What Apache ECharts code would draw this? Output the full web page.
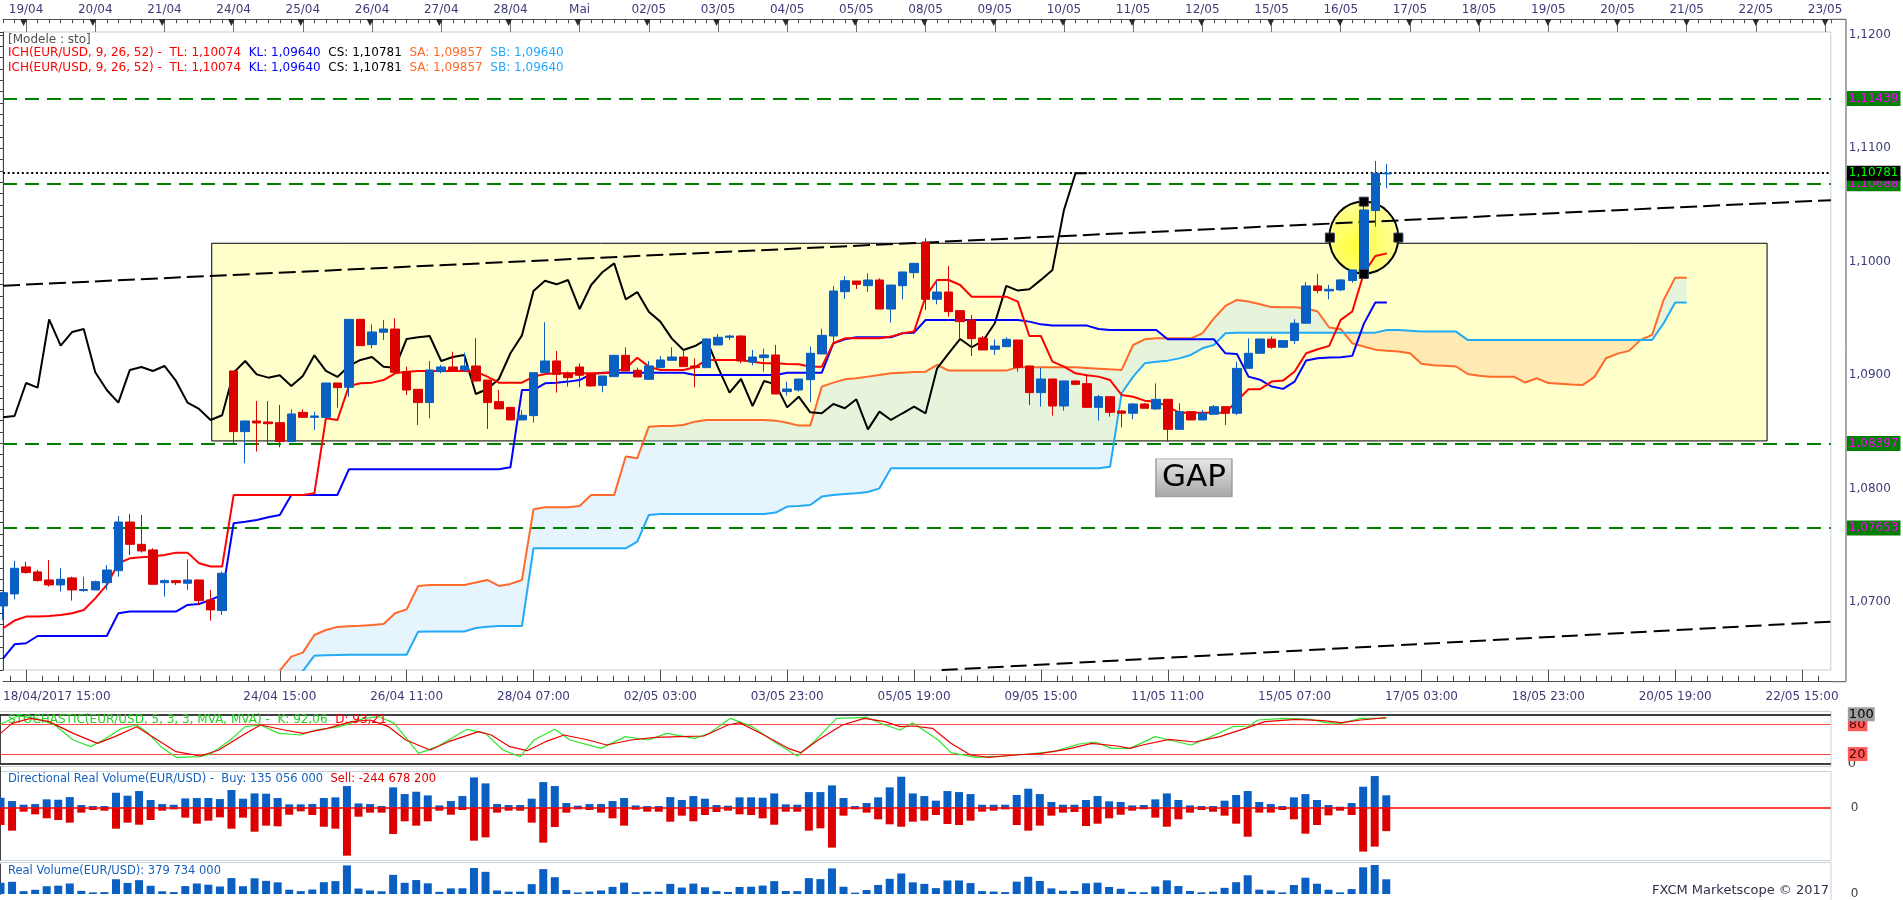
<!DOCTYPE html>
<html><head><meta charset="utf-8">
<script src="https://cdn.jsdelivr.net/npm/echarts@6/dist/echarts.min.js"></script>
<style>html,body{margin:0;padding:0;background:#fff;overflow:hidden}#c{width:1903px;height:900px}</style>
</head><body><div id="c"></div><script>
// ---------------- DATA ----------------
// H4 candles EUR/USD, bar index 0 = 18/04/2017 15:00 ; [open, close, low, high]
const candles = [
[1.06965,1.07082,1.06841,1.07090],[1.07071,1.07297,1.07024,1.07362],[1.07309,1.07259,1.07250,1.07355],[1.07265,1.07188,1.07180,1.07282],[1.07194,1.07150,1.07135,1.07370],
[1.07150,1.07200,1.07091,1.07297],[1.07212,1.07106,1.07012,1.07223],[1.07100,1.07110,1.07091,1.07223],[1.07106,1.07179,1.07106,1.07188],[1.07170,1.07282,1.07106,1.07326],
[1.07276,1.07705,1.07223,1.07758],[1.07705,1.07508,1.07414,1.07776],[1.07508,1.07450,1.07435,1.07767],[1.07459,1.07156,1.07156,1.07473],[1.07170,1.07188,1.07047,1.07200],
[1.07188,1.07170,1.07150,1.07194],[1.07165,1.07194,1.07106,1.07376],[1.07194,1.07012,1.06974,1.07194],[1.07018,1.06930,1.06835,1.07106],[1.06924,1.07253,1.06885,1.07268],
[1.09037,1.08502,1.08399,1.09037],[1.08502,1.08596,1.08223,1.08596],[1.08596,1.08578,1.08326,1.08772],[1.08587,1.08572,1.08399,1.08772],[1.08581,1.08414,1.08364,1.08737],
[1.08414,1.08658,1.08414,1.08699],[1.08672,1.08628,1.08628,1.08699],[1.08628,1.08640,1.08516,1.08678],[1.08628,1.08931,1.08628,1.08931],[1.08931,1.08890,1.08713,1.08931],
[1.08893,1.09492,1.08810,1.09492],[1.09492,1.09260,1.09260,1.09492],[1.09269,1.09381,1.09237,1.09448],[1.09378,1.09407,1.09310,1.09486],[1.09407,1.09025,1.09025,1.09501],
[1.09031,1.08869,1.08825,1.09075],[1.08875,1.08758,1.08561,1.08875],[1.08758,1.09046,1.08619,1.09125],[1.09031,1.09072,1.09016,1.09090],[1.09072,1.09037,1.09037,1.09207],
[1.09046,1.09081,1.09031,1.09198],[1.09081,1.08949,1.08943,1.09325],[1.08957,1.08758,1.08525,1.08957],[1.08767,1.08702,1.08702,1.08869],[1.08716,1.08605,1.08605,1.08716],
[1.08605,1.08646,1.08605,1.08693],[1.08643,1.09022,1.08581,1.09022],[1.09022,1.09125,1.09022,1.09466],[1.09125,1.09007,1.08846,1.09213],[1.09016,1.08978,1.08899,1.09031],
[1.09072,1.08999,1.08893,1.09104],[1.09007,1.08905,1.08899,1.09022],[1.08910,1.08993,1.08849,1.08993],[1.08987,1.09175,1.08987,1.09175],[1.09175,1.09037,1.09037,1.09245],
[1.09043,1.08984,1.08984,1.09066],[1.08963,1.09081,1.08963,1.09125],[1.09066,1.09134,1.09066,1.09169],[1.09131,1.09160,1.09131,1.09246],[1.09160,1.09075,1.09075,1.09222],
[1.09081,1.09066,1.08893,1.09148],[1.09066,1.09319,1.09066,1.09319],[1.09266,1.09334,1.09266,1.09363],[1.09334,1.09345,1.09310,1.09357],[1.09345,1.09125,1.09104,1.09351],
[1.09116,1.09160,1.09087,1.09222],[1.09154,1.09178,1.09031,1.09234],[1.09178,1.08834,1.08834,1.09266],[1.08855,1.08878,1.08819,1.08943],[1.08869,1.08966,1.08855,1.08966],
[1.08960,1.09193,1.08761,1.09251],[1.09187,1.09351,1.09187,1.09410],[1.09345,1.09742,1.09266,1.09786],[1.09736,1.09833,1.09672,1.09874],[1.09830,1.09801,1.09760,1.09830],
[1.09789,1.09839,1.09733,1.09898],[1.09839,1.09583,1.09583,1.09854],[1.09583,1.09795,1.09463,1.09795],[1.09789,1.09910,1.09669,1.09910],[1.09904,1.09986,1.09854,1.09986],
[1.10171,1.09669,1.09575,1.10207],[1.09669,1.09733,1.09625,1.09824],[1.09733,1.09560,1.09516,1.09963],[1.09569,1.09472,1.09319,1.09569],[1.09487,1.09322,1.09169,1.09531],
[1.09328,1.09222,1.09222,1.09345],[1.09228,1.09257,1.09178,1.09316],[1.09251,1.09316,1.09251,1.09334],[1.09310,1.09069,1.09031,1.09310],[1.09081,1.08846,1.08737,1.09081],
[1.08846,1.08966,1.08722,1.09066],[1.08966,1.08728,1.08643,1.08966],[1.08728,1.08949,1.08687,1.08949],[1.08949,1.08919,1.08919,1.08949],[1.08925,1.08716,1.08716,1.09007],
[1.08716,1.08810,1.08599,1.08825],[1.08810,1.08672,1.08634,1.08810],[1.08684,1.08664,1.08540,1.08693],[1.08664,1.08746,1.08611,1.08755],[1.08746,1.08708,1.08708,1.08755],
[1.08702,1.08787,1.08693,1.08928],[1.08787,1.08522,1.08414,1.08787],[1.08522,1.08678,1.08522,1.08752],[1.08678,1.08605,1.08605,1.08678],[1.08605,1.08664,1.08605,1.08693],
[1.08655,1.08722,1.08655,1.08737],[1.08722,1.08664,1.08561,1.08722],[1.08664,1.09060,1.08649,1.09119],[1.09060,1.09193,1.09060,1.09325],[1.09193,1.09319,1.09193,1.09319],
[1.09317,1.09246,1.09231,1.09340],[1.09246,1.09305,1.09240,1.09305],[1.09305,1.09458,1.09273,1.09493],[1.09458,1.09787,1.09458,1.09822],[1.09787,1.09746,1.09722,1.09893],
[1.09743,1.09757,1.09669,1.09796],[1.09752,1.09840,1.09740,1.09845],[1.09834,1.09928,1.09816,1.09928],[1.09869,1.10457,1.09869,1.10530],[1.10451,1.10780,1.10310,1.10889],
[1.10775,1.10781,1.10648,1.10863]
];
// Ichimoku (9, 26, 52)
const tenkan = [
1.06768,1.06836,1.06871,1.06871,1.06877,1.06885,1.06900,1.06929,1.07032,1.07150,
1.07341,1.07385,1.07394,1.07400,1.07414,1.07435,1.07435,1.07341,1.07312,1.07312,
1.07944,1.07944,1.07944,1.07944,1.07944,1.07944,1.07944,1.07958,1.08619,1.08605,
1.08905,1.08928,1.08934,1.08957,1.09016,1.09031,1.09037,1.09037,1.09037,1.09037,
1.09037,1.09031,1.08987,1.08934,1.08934,1.08934,1.08987,1.09010,1.09016,1.09016,
1.09016,1.09016,1.09016,1.09031,1.09060,1.09154,1.09075,1.09046,1.09046,1.09046,
1.09069,1.09134,1.09134,1.09134,1.09134,1.09119,1.09104,1.09104,1.09099,1.09096,
1.09075,1.09075,1.09281,1.09325,1.09325,1.09325,1.09325,1.09340,1.09369,1.09384,
1.09692,1.09839,1.09839,1.09795,1.09692,1.09692,1.09692,1.09692,1.09648,1.09345,
1.09345,1.09119,1.09075,1.09016,1.08999,1.08987,1.08957,1.08825,1.08810,1.08775,
1.08766,1.08722,1.08669,1.08669,1.08669,1.08669,1.08669,1.08775,1.08876,1.08876,
1.08943,1.08952,1.09032,1.09193,1.09228,1.09258,1.09487,1.09561,1.09899,1.10051,1.10074];
const kijun = [
1.06500,1.06627,1.06636,1.06700,1.06700,1.06700,1.06700,1.06700,1.06700,1.06700,
1.06900,1.06915,1.06915,1.06915,1.06915,1.06915,1.06974,1.06982,1.07018,1.07062,
1.07694,1.07708,1.07723,1.07747,1.07767,1.07944,1.07944,1.07944,1.07944,1.07944,
1.08170,1.08170,1.08170,1.08170,1.08170,1.08170,1.08170,1.08170,1.08170,1.08170,
1.08170,1.08170,1.08170,1.08170,1.08187,1.08869,1.08869,1.08928,1.08934,1.08943,
1.08957,1.09010,1.09022,1.09022,1.09022,1.09022,1.09022,1.09022,1.09022,1.09022,
1.09002,1.09002,1.09002,1.09002,1.09002,1.09002,1.09002,1.09002,1.09022,1.09022,
1.09022,1.09022,1.09281,1.09316,1.09334,1.09334,1.09334,1.09334,1.09369,1.09375,
1.09486,1.09486,1.09486,1.09486,1.09486,1.09486,1.09486,1.09486,1.09486,1.09472,
1.09448,1.09437,1.09437,1.09437,1.09437,1.09407,1.09398,1.09398,1.09398,1.09398,
1.09398,1.09316,1.09316,1.09316,1.09316,1.09316,1.09193,1.09187,1.08987,1.08960,
1.08900,1.08879,1.08943,1.09129,1.09149,1.09155,1.09158,1.09170,1.09452,1.09640,1.09640];
const chikouShift = 26;
const senkouAStart = 24;
const senkouA = [
1.06395,1.06518,1.06553,1.06709,1.06753,1.06780,1.06785,1.06790,1.06797,1.06806,
1.06900,1.06935,1.07141,1.07150,1.07150,1.07150,1.07150,1.07171,1.07194,1.07141,
1.07159,1.07194,1.07817,1.07835,1.07835,1.07835,1.07847,1.07944,1.07944,1.07944,
1.08282,1.08267,1.08546,1.08552,1.08552,1.08561,1.08590,1.08605,1.08605,1.08605,
1.08605,1.08605,1.08605,1.08599,1.08581,1.08555,1.08555,1.08899,1.08934,1.08963,
1.08972,1.08987,1.09002,1.09016,1.09022,1.09028,1.09031,1.09090,1.09040,1.09040,
1.09040,1.09040,1.09040,1.09040,1.09069,1.09069,1.09069,1.09069,1.09069,1.09069,
1.09063,1.09057,1.09051,1.09046,1.09266,1.09316,1.09325,1.09325,1.09325,1.09325,
1.09369,1.09501,1.09610,1.09663,1.09650,1.09625,1.09600,1.09599,1.09599,1.09590,
1.09561,1.09420,1.09405,1.09280,1.09252,1.09225,1.09215,1.09208,1.09193,1.09100,
1.09088,1.09082,1.09076,1.09010,1.08995,1.08987,1.08987,1.08987,1.08935,1.08973,
1.08930,1.08925,1.08918,1.08914,1.08985,1.09149,1.09190,1.09214,1.09311,1.09355,
1.09663,1.09860,1.09860];
const senkouBStart = 24;
const senkouB = [
1.06300,1.06340,
1.06390,1.06526,1.06530,1.06533,1.06535,1.06535,1.06535,1.06535,1.06535,1.06535,
1.06738,1.06740,1.06740,1.06740,1.06740,1.06770,1.06782,1.06788,1.06788,1.06788,
1.07473,1.07473,1.07473,1.07473,1.07473,1.07473,1.07473,1.07473,1.07473,1.07532,
1.07767,1.07776,1.07776,1.07776,1.07776,1.07776,1.07776,1.07776,1.07776,1.07776,
1.07776,1.07788,1.07841,1.07847,1.07855,1.07929,1.07944,1.07952,1.07958,1.07970,
1.08002,1.08179,1.08179,1.08179,1.08179,1.08179,1.08179,1.08179,1.08179,1.08179,
1.08179,1.08179,1.08179,1.08179,1.08179,1.08179,1.08179,1.08179,1.08179,1.08179,
1.08193,1.08840,1.08987,1.09104,1.09119,1.09128,1.09148,1.09178,1.09237,1.09266,
1.09369,1.09375,1.09375,1.09375,1.09375,1.09375,1.09375,1.09375,1.09375,1.09375,
1.09375,1.09375,1.09375,1.09375,1.09399,1.09399,1.09392,1.09384,1.09384,1.09384,
1.09384,1.09311,1.09311,1.09311,1.09311,1.09311,1.09311,1.09311,1.09311,1.09311,
1.09311,1.09311,1.09311,1.09311,1.09311,1.09311,1.09311,1.09311,1.09458,1.09640,
1.09640];
// Stochastic (5,3,3): [bar, value]
const stochK = [[0,80],[1.5,96.6],[3.1,91.9],[4.7,78.5],[6.3,48.3],[7.8,34.9],[8.9,48.3],[10.5,71.8],[11.8,78.5],[12.8,61.7],[13.9,34.9],[15.2,13.4],[17.3,14.8],[18.3,21.5],[19.9,48.3],[21.2,75.1],[22.5,78.5],[24.1,61.7],[26,58.4],[27.3,68.4],[29.4,75.1],[31.5,91.9],[32.8,95.2],[34.1,81.8],[36.2,21.5],[37.8,34.9],[40.4,69.8],[42,61.7],[43.5,28.2],[45,14.8],[46.2,48.3],[48,69.8],[49.3,48.3],[52,31.5],[54.1,55],[56.1,48.3],[57.7,61.7],[60.1,51.6],[61.4,61.7],[63.2,91.9],[65.1,75.1],[67.2,41.6],[69,16.1],[70.3,41.6],[72.4,91.9],[75,93.9],[76.6,78.5],[77.9,68.4],[79,83.2],[81.2,48.3],[82.3,22.8],[84.5,13.4],[86.8,16.1],[89,20.1],[91.2,24.8],[93.4,40.2],[94.8,44.3],[96.2,31.5],[97.8,31.5],[100,55],[101.2,48.3],[103.1,38.2],[104.5,51.6],[106.7,75.1],[108.1,76.5],[108.9,88.5],[111.1,91.9],[113.3,90.5],[114.7,83.2],[116.1,81.8],[117.8,91.9],[120,92.06]];
const stochD = [[0,61.7],[1,81.8],[2.6,91.9],[4.2,85.2],[6.3,61.7],[8.4,41.6],[9.9,55],[11.8,75.1],[13.6,48.3],[15.2,24.8],[17.3,16.1],[18.9,28.2],[21,58.4],[22.5,78.5],[24.6,68.4],[26.2,61.7],[28.3,71.8],[30.4,85.2],[32,88.5],[33.6,75.1],[35.1,48.3],[37.2,28.2],[38.8,44.9],[41.4,65.1],[42.5,58.4],[44.1,34.9],[45.6,26.8],[47.2,44.9],[48.8,58.4],[50.9,48.3],[52.5,38.2],[54.6,48.3],[56.7,53.7],[58.8,55],[60.9,56.3],[63,78.5],[64,83.2],[66.1,58.4],[68.2,31.5],[69.3,22.8],[70.8,48.3],[72.9,78.5],[74.8,91.9],[76.6,85.2],[77.9,75.1],[79,76.5],[80.7,71.8],[82.3,41.6],[84,18.1],[85.6,13.4],[87.9,18.1],[90.1,21.5],[92.3,29.5],[94.5,41.6],[96.7,36.2],[97.8,31.5],[98.9,38.2],[101.2,49.6],[103.4,44.3],[105.6,55],[107.8,71.8],[109.5,85.2],[112.2,89.9],[114.5,87.2],[116.1,83.2],[117.8,88.5],[120,93.21]];
// Directional real volume, millions (buy up, sell down)
const buyVolume = [109,74,35,42,92,88,116,32,21,21, 162,131,180,85,42,35,102,106,106,95, 191,99,155,152,106,39,39,42,106,113, 233,49,42,21,219,148,173,134,28,74, 127,325,261,42,32,32,99,275,233,53, 25,42,42,74,106,28,21,21,116,85, 127,99,32,25,113,113,109,155,39,35, 169,169,240,106,21,53,113,219,332,155, 127,78,180,169,148,35,35,35,138,205, 148,64,35,35,85,127,71,64,28,32, 92,155,85,28,21,21,78,138,180,64, 42,21,113,148,85,32,14,53,226,339, 135.056];
const sellVolume = [180,240,39,67,109,127,155,49,21,28, 219,155,177,127,28,14,102,166,134,99, 219,102,251,187,194,71,35,74,198,219, 505,92,49,49,275,141,187,141,28,71, 21,346,311,49,28,28,155,367,201,49, 14,21,49,109,187,18,39,39,145,81, 141,74,42,28,67,74,109,177,39,39, 240,215,420,81,14,49,120,173,198,145, 134,74,169,180,134,39,28,14,180,240, 187,81,49,42,191,166,109,71,28,14, 102,198,120,49,21,39,81,166,304,49, 49,21,120,272,180,78,28,74,462,409, 244.678];
// Drawn objects, in chart coordinates [bar, price]
const levelLines = [1.11439, 1.10688, 1.08397, 1.07653];
const lastClose = 1.10781;
const upperTrend = [[0, 1.09789], [158.5, 1.10543]];
const lowerTrend = [[81.4, 1.06400], [158.5, 1.06826]];
const rangeBox = [[18.1, 1.10163], [152.97, 1.08420]];
const circleCenter = [118, 1.10213];
const circleHandles = [[118, 1.10530], [118, 1.09892], [115.06, 1.10213], [121.0, 1.10213]];
const gapNote = [103.27, 1.08094];
// Axis ticks / labels
const dayTicks = [2,8,14,20,26,32,38,44,50,56,62,68,74,80,86,92,98,104,110,116,122,128,134,140,146,152,158];
const dayLabels = ['19/04','20/04','21/04','24/04','25/04','26/04','27/04','28/04','Mai','02/05','03/05','04/05','05/05','08/05','09/05','10/05','11/05','12/05','15/05','16/05','17/05','18/05','19/05','20/05','21/05','22/05','23/05'];
const timeTicks = [0,24,35,46,57,68,79,90,101,112,123,134,145,156];
const timeLabels = ['18/04/2017 15:00','24/04 15:00','26/04 11:00','28/04 07:00','02/05 03:00','03/05 23:00','05/05 19:00','09/05 15:00','11/05 11:00','15/05 07:00','17/05 03:00','18/05 23:00','20/05 19:00','22/05 15:00'];
const timeMajorTicks = [2,13,24,35,46,57,68,79,90,101,112,123,134,145,156];
const priceTicks = [1.07, 1.08, 1.09, 1.10, 1.11, 1.12];
const priceMidTicks = [1.065, 1.075, 1.085, 1.095, 1.105, 1.115];
const stochTicks = [0, 25, 50, 75, 100];
const stochBandLabels = [20, 80];
const dirTicks = [-500,-400,-300,-200,-100,0,100,200,300,400];
const volTicks = [0, 200, 400, 600];

// ---------------- CHART ----------------
const FONT = 'DejaVu Sans';
const BLUE = '#0a5fc2', RED = '#dd0000';
const AXIS_TXT = '#3c3c78';
const X_MAX = 158.5, BAR_PX = 11.548;
const GL = 0.5, GW = X_MAX * BAR_PX;
const CLOUD_UP = 'rgba(185,225,250,0.36)', CLOUD_DOWN = 'rgba(255,200,140,0.38)';

const minorTimeTicks = [];
timeMajorTicks.forEach(m => { for (let k = 1; k < 8; k++) { const v = m + k * 11 / 8; if (v <= X_MAX) minorTimeTicks.push(v); } });
minorTimeTicks.push(2 - 11 / 8);

const candleData = candles.map((c, i) => [i, c[0], c[1], c[2], c[3]]);
const chikou = candles.slice(chikouShift).map((c, i) => [i, c[1]]);
const lineData = (arr, start) => arr.map((v, i) => [start + i, v]);
const realVolume = buyVolume.map((b, i) => [i, b + sellVolume[i]]);

function renderCloud(params, api) {
  const cs = params.coordSys;
  const y0 = cs.y, y1 = cs.y + cs.height;
  const pt = (x, v) => { const p = api.coord([x, v]); return [p[0], Math.min(y1, Math.max(y0, p[1]))]; };
  const A = j => senkouA[j - senkouAStart], B = j => senkouB[j - senkouBStart];
  const start = Math.max(senkouAStart, senkouBStart);
  const end = Math.min(senkouAStart + senkouA.length, senkouBStart + senkouB.length) - 1;
  const children = [];
  let top = [], bot = [], sign = 0;
  const flush = () => { if (top.length > 1) children.push({type: 'polygon', shape: {points: top.concat(bot.slice().reverse())}, style: {fill: sign >= 0 ? CLOUD_UP : CLOUD_DOWN}}); };
  for (let j = start; j <= end; j++) {
    const d = A(j) - B(j);
    const s = d > 0 ? 1 : (d < 0 ? -1 : 0);
    if (top.length === 0) { sign = s; top.push(pt(j, A(j))); bot.push(pt(j, B(j))); continue; }
    if (s !== 0 && sign !== 0 && s !== sign) {
      const dp = A(j - 1) - B(j - 1);
      const t = dp / (dp - d);
      const P = pt(j - 1 + t, A(j - 1) + t * (A(j) - A(j - 1)));
      top.push(P); bot.push(P); flush();
      top = [P]; bot = [P]; sign = s;
    } else if (sign === 0) { sign = s; }
    top.push(pt(j, A(j))); bot.push(pt(j, B(j)));
  }
  flush();
  return {type: 'group', children};
}

const hx = g => ({type: 'value', gridIndex: g, min: 0, max: X_MAX, show: false});
const lbl = (positions, texts) => v => { const i = positions.indexOf(v); return i < 0 ? '' : texts[i]; };
const priceFmt = v => v.toFixed(4).replace('.', ',');
// stochastic right-axis label layers (drawn in order: 0, 20/80, 100)
const stochLabelAxis = (values, fmt, rich) => ({type: 'value', gridIndex: 1, min: 0, max: 100, position: 'right', offset: 14,
  axisLine: {show: false}, axisTick: {show: false}, splitLine: {show: false},
  axisLabel: {show: true, customValues: values, margin: 3, fontSize: 13, fontFamily: FONT, showMinLabel: true, showMaxLabel: true, formatter: fmt, rich}});
const RICH_STOCH = {
  g: {backgroundColor: '#9c9c9c', color: '#000', fontSize: 13, fontFamily: FONT, padding: [1, 1, 0, 1]},
  r: {backgroundColor: '#ff5a5a', color: '#500000', fontSize: 13, fontFamily: FONT, padding: [1, 2, 0, 1]},
  n: {color: '#404040', fontSize: 13, fontFamily: FONT}};

const chart = echarts.init(document.getElementById('c'), null, {renderer: 'canvas'});
chart.setOption({
  animation: false,
  backgroundColor: '#ffffff',
  textStyle: {fontFamily: FONT},
  grid: [
    {left: GL, width: GW, top: 32, height: 638, show: true, borderColor: '#c4ced8', borderWidth: 1, backgroundColor: 'transparent'},
    {left: GL, width: GW, top: 714.3, height: 49.7},
    {left: GL, width: GW, top: 767, height: 93},
    {left: GL, width: GW, top: 864, height: 36},
    {left: GL, width: GW, top: 19.3, height: 12.7}
  ],
  xAxis: [
    {type: 'value', gridIndex: 0, min: 0, max: X_MAX, position: 'bottom', offset: 11.7,
     axisLine: {show: true, lineStyle: {color: '#505050'}},
     axisTick: {show: true, inside: true, length: 12, customValues: timeMajorTicks, lineStyle: {color: '#505050'}},
     axisLabel: {show: true, customValues: timeTicks, formatter: lbl(timeTicks, timeLabels), color: AXIS_TXT, fontSize: 12, fontFamily: FONT, margin: 9, alignMinLabel: 'left'},
     splitLine: {show: false}},
    {type: 'value', gridIndex: 0, min: 0, max: X_MAX, position: 'bottom', offset: 11.7,
     axisLine: {show: false}, axisLabel: {show: false}, splitLine: {show: false},
     axisTick: {show: true, inside: true, length: 6, customValues: minorTimeTicks, lineStyle: {color: '#505050'}}},
    {type: 'value', gridIndex: 0, min: 0, max: X_MAX, position: 'top', offset: 12.7,
     axisLine: {show: true, lineStyle: {color: '#505050'}},
     axisTick: {show: true, inside: true, length: 12.7, customValues: dayTicks, lineStyle: {color: '#707070'}},
     axisLabel: {show: true, customValues: dayTicks, formatter: lbl(dayTicks, dayLabels), color: AXIS_TXT, fontSize: 12, fontFamily: FONT, margin: 3},
     splitLine: {show: false}},
    {type: 'value', gridIndex: 0, min: 0, max: X_MAX, position: 'top', offset: 12.7, interval: 1,
     axisLine: {show: false}, axisLabel: {show: false}, splitLine: {show: false},
     axisTick: {show: true, inside: true, length: 4, lineStyle: {color: '#505050'}}},
    hx(1), hx(2), hx(3), hx(4)
  ],
  yAxis: [
    {type: 'value', gridIndex: 0, min: 1.064, max: 1.12026, position: 'right', offset: 15,
     axisLine: {show: true, lineStyle: {color: '#404040'}},
     axisTick: {show: true, inside: true, length: 15, customValues: priceTicks, lineStyle: {color: '#404040'}},
     axisLabel: {show: true, customValues: priceTicks, formatter: priceFmt, color: AXIS_TXT, fontSize: 12, fontFamily: FONT, margin: 3, showMaxLabel: true, showMinLabel: true},
     splitLine: {show: false}},
    {type: 'value', gridIndex: 0, min: 1.064, max: 1.12026, position: 'right', offset: 15, interval: 0.001,
     axisLine: {show: false}, axisLabel: {show: false}, splitLine: {show: false},
     axisTick: {show: true, inside: true, length: 4, lineStyle: {color: '#404040'}}},
    {type: 'value', gridIndex: 0, min: 1.064, max: 1.12026, position: 'right', offset: 15,
     axisLine: {show: false}, axisLabel: {show: false}, splitLine: {show: false},
     axisTick: {show: true, inside: true, length: 8, customValues: priceMidTicks, lineStyle: {color: '#404040'}}},
    {type: 'value', gridIndex: 1, min: 0, max: 100, position: 'right', offset: 14,
     axisLine: {show: true, lineStyle: {color: '#404040'}},
     axisTick: {show: true, inside: true, length: 4, customValues: stochTicks, lineStyle: {color: '#404040'}},
     axisLabel: {show: true, customValues: [0], margin: 3, fontSize: 13, fontFamily: FONT, showMinLabel: true, formatter: () => '{n|0}', rich: RICH_STOCH},
     splitLine: {show: false}},
    {type: 'value', gridIndex: 2, min: -551, max: 435, position: 'right', offset: 15,
     axisLine: {show: true, lineStyle: {color: '#404040'}},
     axisTick: {show: true, inside: true, length: 5, customValues: dirTicks, lineStyle: {color: '#404040'}},
     axisLabel: {show: true, customValues: [0], color: '#404040', fontSize: 12, fontFamily: FONT, margin: 5},
     splitLine: {show: false}},
    {type: 'value', gridIndex: 3, min: 0, max: 774, position: 'right', offset: 15,
     axisLine: {show: true, lineStyle: {color: '#404040'}},
     axisTick: {show: true, inside: true, length: 5, customValues: volTicks, lineStyle: {color: '#404040'}},
     axisLabel: {show: true, customValues: [0], color: '#404040', fontSize: 12, fontFamily: FONT, margin: 5, showMinLabel: true},
     splitLine: {show: false}},
    {type: 'value', gridIndex: 4, min: 0, max: 1, show: false},
    stochLabelAxis(stochBandLabels, v => '{r|' + v + '}', RICH_STOCH),
    stochLabelAxis([100], () => '{g|100}', RICH_STOCH)
  ],
  title: [
    {left: 8, top: 34, padding: 0, text: '[Modele : sto]', textStyle: {fontSize: 12, fontWeight: 'normal', color: '#505050', fontFamily: FONT}},
    {left: 8, top: 47, padding: 0, text: '{r|ICH(EUR/USD, 9, 26, 52) -  TL: 1,10074}  {b|KL: 1,09640}  {k|CS: 1,10781}  {o|SA: 1,09857}  {c|SB: 1,09640}',
     textStyle: {fontSize: 12, fontWeight: 'normal', fontFamily: FONT, rich: {
       r: {color: '#ff0000', fontSize: 12, fontFamily: FONT}, b: {color: '#0000ff', fontSize: 12, fontFamily: FONT},
       k: {color: '#000000', fontSize: 12, fontFamily: FONT}, o: {color: '#ff6a2a', fontSize: 12, fontFamily: FONT},
       c: {color: '#22a8ff', fontSize: 12, fontFamily: FONT}}}},
    {left: 8, top: 62, padding: 0, text: '{r|ICH(EUR/USD, 9, 26, 52) -  TL: 1,10074}  {b|KL: 1,09640}  {k|CS: 1,10781}  {o|SA: 1,09857}  {c|SB: 1,09640}',
     textStyle: {fontSize: 12, fontWeight: 'normal', fontFamily: FONT, rich: {
       r: {color: '#ff0000', fontSize: 12, fontFamily: FONT}, b: {color: '#0000ff', fontSize: 12, fontFamily: FONT},
       k: {color: '#000000', fontSize: 12, fontFamily: FONT}, o: {color: '#ff6a2a', fontSize: 12, fontFamily: FONT},
       c: {color: '#22a8ff', fontSize: 12, fontFamily: FONT}}}},
    {left: 8, top: 714, padding: 0, text: '{g|STOCHASTIC(EUR/USD, 5, 3, 3, MVA, MVA) -  K: 92,06}  {r|D: 93,21}',
     textStyle: {fontSize: 12, fontWeight: 'normal', fontFamily: FONT, rich: {
       g: {color: '#22d022', fontSize: 12, fontFamily: FONT}, r: {color: '#ff0000', fontSize: 12, fontFamily: FONT}}}},
    {left: 8, top: 773, padding: 0, text: '{b|Directional Real Volume(EUR/USD) -  Buy: 135 056 000}  {r|Sell: -244 678 200}',
     textStyle: {fontSize: 11.5, fontWeight: 'normal', fontFamily: FONT, rich: {
       b: {color: '#1560bd', fontSize: 11.5, fontFamily: FONT}, r: {color: '#e00000', fontSize: 11.5, fontFamily: FONT}}}},
    {left: 8, top: 865, padding: 0, text: 'Real Volume(EUR/USD): 379 734 000',
     textStyle: {fontSize: 11.5, fontWeight: 'normal', color: '#1560bd', fontFamily: FONT}},
    {right: 74, top: 884, padding: 0, text: 'FXCM Marketscope \u00a9 2017',
     textStyle: {fontSize: 13, fontWeight: 'normal', color: '#30304a', fontFamily: FONT}}
  ],
  graphic: [
    {type: 'rect', silent: true, shape: {x: -1, y: 711.5, width: 1832, height: 55}, style: {fill: 'none', stroke: '#c8d0da', lineWidth: 1}},
    {type: 'rect', silent: true, shape: {x: -1, y: 771.5, width: 1832, height: 89}, style: {fill: 'none', stroke: '#c8d0da', lineWidth: 1}},
    {type: 'rect', silent: true, shape: {x: -1, y: 862.5, width: 1832, height: 40}, style: {fill: 'none', stroke: '#c8d0da', lineWidth: 1}},
    {type: 'polyline', silent: true, shape: {points: [[1830.9, 19.3], [1846, 19.3], [1846, 681.7], [1830.9, 681.7]]}, style: {fill: 'none', stroke: '#505050', lineWidth: 1}}
  ],
  series: [
    {name: 'box', type: 'line', xAxisIndex: 0, yAxisIndex: 0, data: rangeBox, symbol: 'none', lineStyle: {opacity: 0}, silent: true, z: 1,
     markArea: {silent: true, itemStyle: {color: '#ffffcc', borderColor: '#000', borderWidth: 1},
       data: [[{coord: rangeBox[0]}, {coord: rangeBox[1]}]]}},
    {name: 'cloud', type: 'custom', xAxisIndex: 0, yAxisIndex: 0, z: 2, clip: true, silent: true,
     data: [[senkouBStart, senkouB[0]]], encode: {x: 0, y: 1}, renderItem: renderCloud},
    {name: 'circle', type: 'scatter', xAxisIndex: 0, yAxisIndex: 0, z: 3, silent: true, data: [circleCenter], symbol: 'circle', symbolSize: [69, 72],
     itemStyle: {opacity: 1, borderColor: '#000', borderWidth: 2,
       color: {type: 'radial', x: 0.4, y: 0.62, r: 0.62, colorStops: [{offset: 0, color: '#ffff3a'}, {offset: 1, color: '#ffff9e'}]}}},
    {name: 'lowerTrend', type: 'line', xAxisIndex: 0, yAxisIndex: 0, z: 4, data: lowerTrend, symbol: 'none', silent: true,
     lineStyle: {color: '#000', width: 2, type: [16, 7]},
     markLine: {silent: true, symbol: ['none', 'none'], animation: false, precision: 5,
       lineStyle: {color: '#008000', width: 2, type: [14, 8]},
       label: {show: true, position: 'end', distance: 16, formatter: p => Number(p.value).toFixed(5).replace('.', ','),
         backgroundColor: '#007f00', color: '#ff00ff', padding: [2, 2, 1, 2], fontSize: 12, fontFamily: FONT},
       data: levelLines.map(v => ({yAxis: v}))}},
    {name: 'upperTrend', type: 'line', xAxisIndex: 0, yAxisIndex: 0, z: 5, data: upperTrend, symbol: 'none', silent: true,
     lineStyle: {color: '#000', width: 2, type: [17, 6]},
     markLine: {silent: true, symbol: ['none', 'none'], animation: false, precision: 5,
       lineStyle: {color: '#000', width: 2, type: [2, 2.7]},
       label: {show: true, position: 'end', distance: 16, formatter: p => Number(p.value).toFixed(5).replace('.', ','),
         backgroundColor: '#000000', color: '#00ff00', padding: [2, 2, 1, 2], fontSize: 12, fontFamily: FONT},
       data: [{yAxis: lastClose}]}},
    {name: 'SA', type: 'line', xAxisIndex: 0, yAxisIndex: 0, z: 6, data: lineData(senkouA, senkouAStart), symbol: 'none', silent: true, lineStyle: {color: '#ff6a2a', width: 2}},
    {name: 'SB', type: 'line', xAxisIndex: 0, yAxisIndex: 0, z: 6, data: lineData(senkouB, senkouBStart), symbol: 'none', silent: true, lineStyle: {color: '#22aaf5', width: 2}},
    {name: 'CS', type: 'line', xAxisIndex: 0, yAxisIndex: 0, z: 6, data: chikou, symbol: 'none', silent: true, lineStyle: {color: '#000000', width: 2}},
    {name: 'KL', type: 'line', xAxisIndex: 0, yAxisIndex: 0, z: 6, data: lineData(kijun, 0), symbol: 'none', silent: true, lineStyle: {color: '#0000ff', width: 2}},
    {name: 'TL', type: 'line', xAxisIndex: 0, yAxisIndex: 0, z: 6, data: lineData(tenkan, 0), symbol: 'none', silent: true, lineStyle: {color: '#ff0000', width: 2}},
    {name: 'EUR/USD', type: 'candlestick', xAxisIndex: 0, yAxisIndex: 0, z: 7, data: candleData, barWidth: 9, silent: true,
     itemStyle: {color: BLUE, color0: RED, borderColor: BLUE, borderColor0: RED, borderWidth: 1}},
    {name: 'handles', type: 'scatter', xAxisIndex: 0, yAxisIndex: 0, z: 9, silent: true, data: circleHandles, symbol: 'rect', symbolSize: 9,
     itemStyle: {color: '#000', borderColor: '#3a3a5a', borderWidth: 1, opacity: 1}},
    {name: 'gap', type: 'scatter', xAxisIndex: 0, yAxisIndex: 0, z: 9, silent: true, data: [gapNote], symbol: 'rect', symbolSize: [76, 38],
     itemStyle: {opacity: 1, borderColor: '#9a9a9a', borderWidth: 1,
       color: {type: 'linear', x: 0, y: 0, x2: 0, y2: 1, colorStops: [{offset: 0, color: '#e8e8e8'}, {offset: 1, color: '#a6a6a6'}]}},
     label: {show: true, position: 'inside', formatter: 'GAP', fontSize: 31, color: '#000', fontFamily: FONT}},
    {name: 'dayMarks', type: 'scatter', xAxisIndex: 7, yAxisIndex: 6, z: 9, silent: true, data: dayTicks.map(d => [d, 0.74]),
     symbol: 'triangle', symbolRotate: 180, symbolSize: [7, 7], itemStyle: {color: '#2a2a2a', opacity: 1}},
    {name: 'K', type: 'line', xAxisIndex: 4, yAxisIndex: 3, z: 5, data: stochK, symbol: 'none', silent: true, lineStyle: {color: '#2ee62e', width: 1.2}},
    {name: 'D', type: 'line', xAxisIndex: 4, yAxisIndex: 3, z: 6, data: stochD, symbol: 'none', silent: true, lineStyle: {color: '#ee0000', width: 1.2},
     markLine: {silent: true, symbol: ['none', 'none'], label: {show: false}, animation: false,
       data: [{yAxis: 100, lineStyle: {color: '#000', width: 1.5, type: 'solid'}}, {yAxis: 0, lineStyle: {color: '#000', width: 1.5, type: 'solid'}},
              {yAxis: 80, lineStyle: {color: '#ff4848', width: 1, type: 'solid'}}, {yAxis: 20, lineStyle: {color: '#ff4848', width: 1, type: 'solid'}}]}},
    {name: 'Buy', type: 'bar', xAxisIndex: 5, yAxisIndex: 4, stack: 'dir', barWidth: 8, silent: true, data: buyVolume.map((v, i) => [i, v]), itemStyle: {color: BLUE},
     markLine: {silent: true, symbol: ['none', 'none'], label: {show: false}, animation: false, lineStyle: {color: '#ff0000', width: 1.5, type: 'solid'}, data: [{yAxis: 0}]}},
    {name: 'Sell', type: 'bar', xAxisIndex: 5, yAxisIndex: 4, stack: 'dir', barWidth: 8, silent: true, data: sellVolume.map((v, i) => [i, -v]), itemStyle: {color: RED}},
    {name: 'Volume', type: 'bar', xAxisIndex: 6, yAxisIndex: 5, barWidth: 8, silent: true, data: realVolume, itemStyle: {color: BLUE}}
  ]
});
</script></body></html>
